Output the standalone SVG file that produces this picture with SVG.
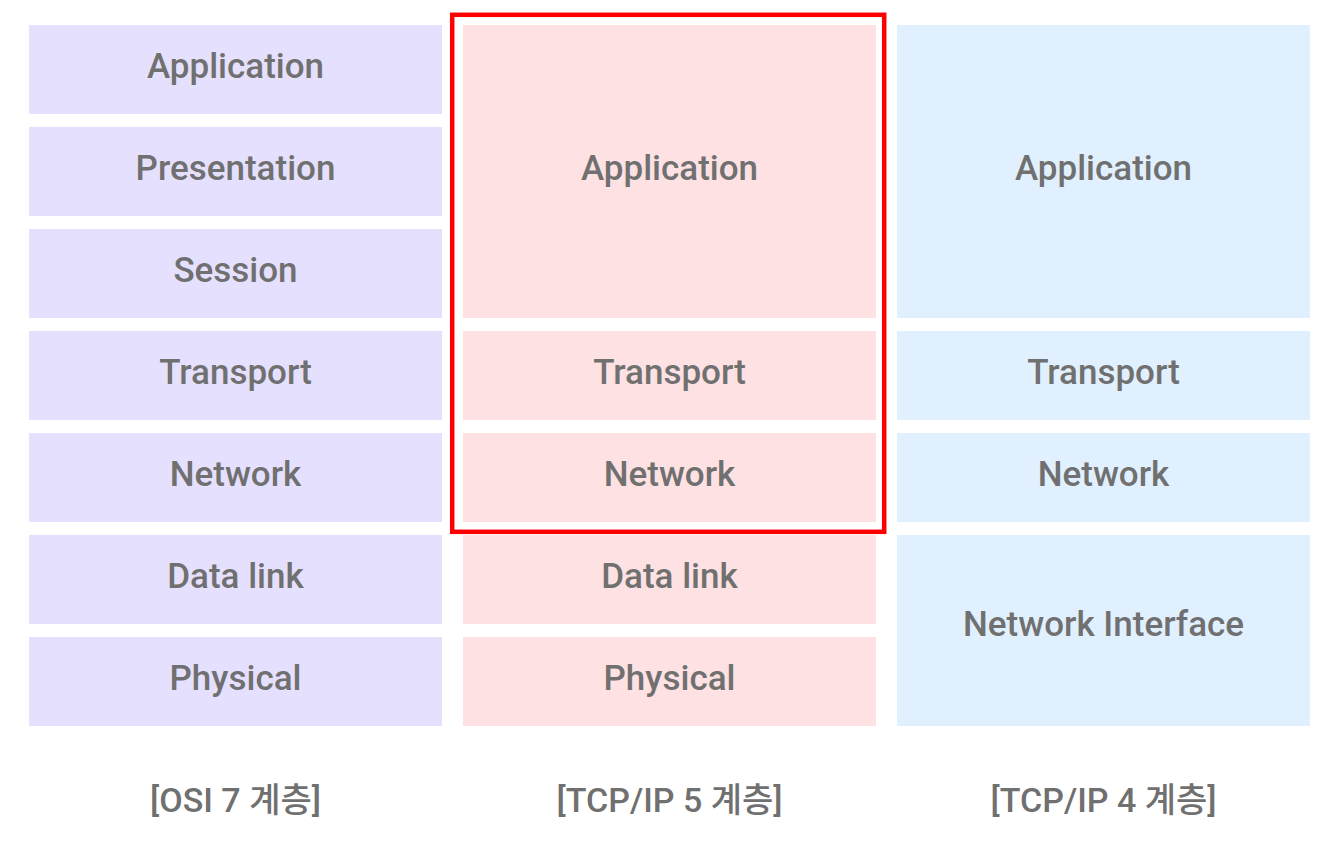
<svg xmlns="http://www.w3.org/2000/svg" width="1342" height="849" viewBox="0 0 1342 849">
<style>
.osi{fill:#E6E0FF}
.tcp5{fill:#FEE1E2}
.tcp4{fill:#E0F0FF}
.t{font-family:Roboto,"Liberation Sans",sans-serif;font-weight:500;font-size:35px;fill:#707070;text-anchor:middle}
.c{font-family:Roboto,"Noto Sans CJK KR",sans-serif;font-weight:500;font-size:34px;fill:#707070;text-anchor:middle}
</style>
<rect width="1342" height="849" fill="#fff"/>
<g id="osi">
<g id="osi-app"><rect class="osi" x="29" y="25" width="413" height="89"/><text class="t" x="235.5" y="78">Application</text></g>
<g id="osi-pres"><rect class="osi" x="29" y="127" width="413" height="89"/><text class="t" x="235.5" y="180">Presentation</text></g>
<g id="osi-sess"><rect class="osi" x="29" y="229" width="413" height="89"/><text class="t" x="235.5" y="282">Session</text></g>
<g id="osi-trans"><rect class="osi" x="29" y="331" width="413" height="89"/><text class="t" x="235.5" y="384">Transport</text></g>
<g id="osi-net"><rect class="osi" x="29" y="433" width="413" height="89"/><text class="t" x="235.5" y="486">Network</text></g>
<g id="osi-dl"><rect class="osi" x="29" y="535" width="413" height="89"/><text class="t" x="235.5" y="588">Data link</text></g>
<g id="osi-phy"><rect class="osi" x="29" y="637" width="413" height="89"/><text class="t" x="235.5" y="690">Physical</text></g>
</g>
<g id="tcp5">
<g id="t5-app"><rect class="tcp5" x="463" y="25" width="413" height="293"/><text class="t" x="669.5" y="180">Application</text></g>
<g id="t5-trans"><rect class="tcp5" x="463" y="331" width="413" height="89"/><text class="t" x="669.5" y="384">Transport</text></g>
<g id="t5-net"><rect class="tcp5" x="463" y="433" width="413" height="89"/><text class="t" x="669.5" y="486">Network</text></g>
<g id="t5-dl"><rect class="tcp5" x="463" y="535" width="413" height="89"/><text class="t" x="669.5" y="588">Data link</text></g>
<g id="t5-phy"><rect class="tcp5" x="463" y="637" width="413" height="89"/><text class="t" x="669.5" y="690">Physical</text></g>
</g>
<g id="tcp4">
<g id="t4-app"><rect class="tcp4" x="897" y="25" width="413" height="293"/><text class="t" x="1103.5" y="180">Application</text></g>
<g id="t4-trans"><rect class="tcp4" x="897" y="331" width="413" height="89"/><text class="t" x="1103.5" y="384">Transport</text></g>
<g id="t4-net"><rect class="tcp4" x="897" y="433" width="413" height="89"/><text class="t" x="1103.5" y="486">Network</text></g>
<g id="t4-ni"><rect class="tcp4" x="897" y="535" width="413" height="191"/><text class="t" x="1103.5" y="636">Network Interface</text></g>
</g>
<g id="highlight"><rect x="452.2" y="14.8" width="432" height="517" fill="none" stroke="#FF0000" stroke-width="4.5"/></g>
<g id="captions">
<text class="c" x="235.5" y="812">[OSI 7 계층]</text>
<text class="c" x="669.5" y="812">[TCP/IP 5 계층]</text>
<text class="c" x="1103.5" y="812">[TCP/IP 4 계층]</text>
</g>
</svg>
